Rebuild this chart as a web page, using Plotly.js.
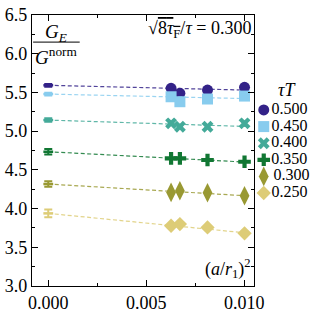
<!DOCTYPE html>
<html><head><meta charset="utf-8">
<script src="https://cdn.plot.ly/plotly-3.0.1.min.js"></script>
<style>html,body{margin:0;padding:0;background:#fff;}#plot{width:318px;height:318px;}</style>
</head><body><div id="plot"></div>
<script>
// ---- data ----
const tauT = ["0.500","0.450","0.400","0.350","0.300","0.250"];
const colors = ["#332288","#88CCEE","#44AA99","#117733","#999933","#DDCC77"];
const symbols = ["circle","square","x","cross","diamond-tall","diamond"];
const latticeX = [0.00627, 0.00672, 0.00813, 0.01002];
const latticeY = [
  [5.553, 5.488, 5.531, 5.566],
  [5.444, 5.380, 5.415, 5.453],
  [5.101, 5.057, 5.057, 5.101],
  [4.648, 4.648, 4.627, 4.605],
  [4.209, 4.230, 4.204, 4.165],
  [3.778, 3.800, 3.757, 3.680]
];
const contY   = [5.592, 5.479, 5.143, 4.734, 4.317, 3.938];
const contErr = [0.018, 0.018, 0.022, 0.035, 0.035, 0.05];
const fitX = [0, 0.0101];
const fitEnd = [5.53, 5.42, 5.06, 4.60, 4.165, 3.685];

const FONT = "Liberation Serif";
const msize = s => s === "diamond-tall" ? 14 : (s === "x" ? 10.5 : (s === "cross" ? 10.5 : 11));
const traces = [];
tauT.forEach((t, i) => {
  traces.push({x: fitX, y: [contY[i], fitEnd[i]], mode: "lines", showlegend: false,
    line: {color: colors[i], width: 1.2, dash: "4px,2.5px"}, opacity: 0.85, hoverinfo: "skip"});
  traces.push({x: [0], y: [contY[i]], mode: "markers", showlegend: false,
    marker: {symbol: "line-ew", size: 7, color: colors[i], line: {color: colors[i], width: 2.5}},
    error_y: {type: "data", array: [contErr[i]], visible: true, color: colors[i], thickness: 2, width: 4}});
  traces.push({x: latticeX, y: latticeY[i], mode: "markers", showlegend: false,
    marker: {symbol: symbols[i], size: msize(symbols[i]), color: colors[i], line: {width: 0}}});
  // custom legend entries
  traces.push({x: [0], y: [i], xaxis: "x2", yaxis: "y2", mode: "markers+text", showlegend: false,
    text: [t], textposition: "middle right", textfont: {family: FONT, size: 16, color: "#000"},
    marker: {symbol: symbols[i], size: msize(symbols[i]), color: colors[i], line: {width: 0}}, cliponaxis: false});
});

const axBase = {showline: true, linecolor: "#000", linewidth: 1.2, mirror: "allticks", ticks: "inside",
  ticklen: 6, tickwidth: 1, tickcolor: "#000", showgrid: false, zeroline: false,
  tickfont: {family: FONT, size: 18, color: "#000"}};

const layout = {
  width: 318, height: 318, paper_bgcolor: "rgba(0,0,0,0)", plot_bgcolor: "rgba(0,0,0,0)",
  margin: {l: 32, r: 0, t: 15, b: 32},
  showlegend: false,
  xaxis: Object.assign({}, axBase, {domain: [0, 0.776], anchor: "y", range: [-0.00083, 0.0105], tickvals: [0, 0.005, 0.01], ticktext: ["0.000","0.005","0.010"],
    minor: {tickvals: [0.0025, 0.0075], ticks: "inside", ticklen: 3, tickcolor: "#000"}}),
  yaxis: Object.assign({}, axBase, {anchor: "x", range: [3.0, 6.5], tickvals: [3.0,3.5,4.0,4.5,5.0,5.5,6.0,6.5],
    ticktext: ["3.0","3.5","4.0","4.5","5.0","5.5","6.0","6.5"],
    minor: {tickvals: [3.25,3.75,4.25,4.75,5.25,5.75,6.25], ticks: "inside", ticklen: 3, tickcolor: "#000"}}),
  xaxis2: {domain: [0.797, 1], range: [-0.07, 1], visible: false, fixedrange: true, anchor: "y2"},
  yaxis2: {domain: [0, 1], range: [10.6, -5.72], visible: false, anchor: "x2", fixedrange: true},
  annotations: [
    {xref: "x domain", yref: "y domain", x: 0.11, y: 0.935, text: "<i>G</i><sub><i>E</i></sub>", showarrow: false,
      font: {family: FONT, size: 19, color: "#000"}, xanchor: "center", yanchor: "middle"},
    {xref: "x domain", yref: "y domain", x: 0.11, y: 0.85, text: "<i>G</i><sup>norm</sup>", showarrow: false,
      font: {family: FONT, size: 19, color: "#000"}, xanchor: "center", yanchor: "middle"},
    {xref: "x domain", yref: "y domain", x: 0.995, y: 0.997, text: "√<span style=\"text-decoration:overline\">8<i>τ</i><sub>F</sub></span>/<i>τ</i> = 0.300",
      showarrow: false, font: {family: FONT, size: 18, color: "#000"}, xanchor: "right", yanchor: "top"},
    {xref: "x domain", yref: "y domain", x: 0.995, y: 0.01, text: "(<i>a</i>/<i>r</i><sub>1</sub>)<sup>2</sup>",
      showarrow: false, font: {family: FONT, size: 18, color: "#000"}, xanchor: "right", yanchor: "bottom"},
    {xref: "x2", yref: "y2", x: 0.42, y: -1.2, text: "<i>τT</i>", showarrow: false,
      font: {family: FONT, size: 18, color: "#000"}, xanchor: "center", yanchor: "middle"}
  ],
  shapes: [
    {type: "line", xref: "x domain", yref: "y domain", x0: 0.005, x1: 0.215, y0: 0.9, y1: 0.9, line: {color: "#000", width: 1}}
  ]
};

Plotly.newPlot("plot", traces, layout, {staticPlot: true, displayModeBar: false});
</script></body></html>
